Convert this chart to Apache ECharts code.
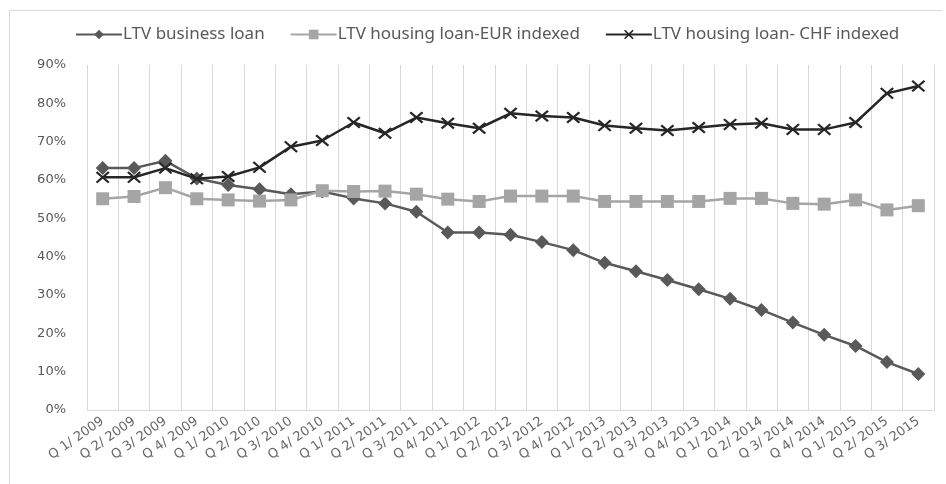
<!DOCTYPE html>
<html>
<head>
<meta charset="utf-8">
<script src="https://cdn.jsdelivr.net/npm/echarts@6/dist/echarts.min.js"></script>
<style>
html,body{margin:0;padding:0;background:#fff;}
#chart{width:946px;height:484px;}
</style>
</head>
<body>
<div id="chart"></div>
<script>
const categories = ["Q 1/ 2009","Q 2/ 2009","Q 3/ 2009","Q 4/ 2009","Q 1/ 2010","Q 2/ 2010","Q 3/ 2010","Q 4/ 2010","Q 1/ 2011","Q 2/ 2011","Q 3/ 2011","Q 4/ 2011","Q 1/ 2012","Q 2/ 2012","Q 3/ 2012","Q 4/ 2012","Q 1/ 2013","Q 2/ 2013","Q 3/ 2013","Q 4/ 2013","Q 1/ 2014","Q 2/ 2014","Q 3/ 2014","Q 4/ 2014","Q 1/ 2015","Q 2/ 2015","Q 3/ 2015"];
const businessLoan = [63.1,63.1,65.0,60.4,58.7,57.6,56.3,57.0,55.2,53.9,51.7,46.3,46.3,45.7,43.8,41.7,38.4,36.2,33.9,31.5,29.0,26.1,22.8,19.6,16.7,12.5,9.4];
const housingEUR = [55.1,55.7,58.0,55.1,54.8,54.5,54.8,57.2,57.0,57.1,56.3,55.0,54.4,55.8,55.8,55.8,54.4,54.4,54.4,54.4,55.2,55.2,53.9,53.7,54.8,52.2,53.3];
const housingCHF = [60.7,60.7,63.1,60.3,60.9,63.3,68.7,70.3,75.0,72.2,76.3,74.8,73.5,77.4,76.7,76.3,74.2,73.5,72.9,73.7,74.5,74.8,73.2,73.2,75.0,82.6,84.5];
const seriesNames = ["LTV business loan","LTV housing loan-EUR indexed","LTV housing loan- CHF indexed"];

const xMark = 'path://M0,1.2L1.2,0L5,3.8L8.8,0L10,1.2L6.2,5L10,8.8L8.8,10L5,6.2L1.2,10L0,8.8L3.8,5Z';

const chart = echarts.init(document.getElementById('chart'));
chart.setOption({
  animation: false,
  backgroundColor: '#ffffff',
  graphic: [{
    type: 'polyline',
    shape: {points: [[9.5, 490], [9.5, 10.5], [942, 10.5]]},
    style: {stroke: '#d9d9d9', fill: null, lineWidth: 1}
  }],
  legend: {
    top: 26,
    left: 75,
    padding: 0,
    itemWidth: 46,
    itemHeight: 12,
    itemGap: 25,
    textStyle: {fontFamily: 'Noto Sans', fontSize: 17, color: '#595959', padding: [0,0,0,-4]},
    data: seriesNames
  },
  grid: {left: 87, right: 12, top: 65, bottom: 74, containLabel: false},
  xAxis: {
    type: 'category',
    data: categories,
    boundaryGap: true,
    axisLine: {lineStyle: {color: '#d9d9d9', width: 1}},
    axisTick: {show: false},
    splitLine: {show: true, lineStyle: {color: '#d9d9d9', width: 1}},
    axisLabel: {rotate: 35, margin: 10, interval: 0, fontFamily: 'DejaVu Sans', fontSize: 13, color: '#666666'}
  },
  yAxis: {
    type: 'value',
    min: 0, max: 90, interval: 10,
    axisLine: {show: false},
    axisTick: {show: false},
    splitLine: {show: false},
    axisLabel: {formatter: '{value}%', fontFamily: 'DejaVu Sans', fontSize: 13, color: '#595959', margin: 21}
  },
  series: [
    {
      name: seriesNames[0], type: 'line', data: businessLoan,
      symbol: 'diamond', symbolSize: 14,
      lineStyle: {color: '#595959', width: 2.5},
      itemStyle: {color: '#595959'},
      z: 3
    },
    {
      name: seriesNames[1], type: 'line', data: housingEUR,
      symbol: 'rect', symbolSize: 13,
      lineStyle: {color: '#a5a5a5', width: 2.5},
      itemStyle: {color: '#a5a5a5'},
      z: 4
    },
    {
      name: seriesNames[2], type: 'line', data: housingCHF,
      symbol: xMark, symbolSize: [14, 12],
      lineStyle: {color: '#262626', width: 2.5},
      itemStyle: {color: '#262626'},
      z: 5
    }
  ]
});
</script>
</body>
</html>
